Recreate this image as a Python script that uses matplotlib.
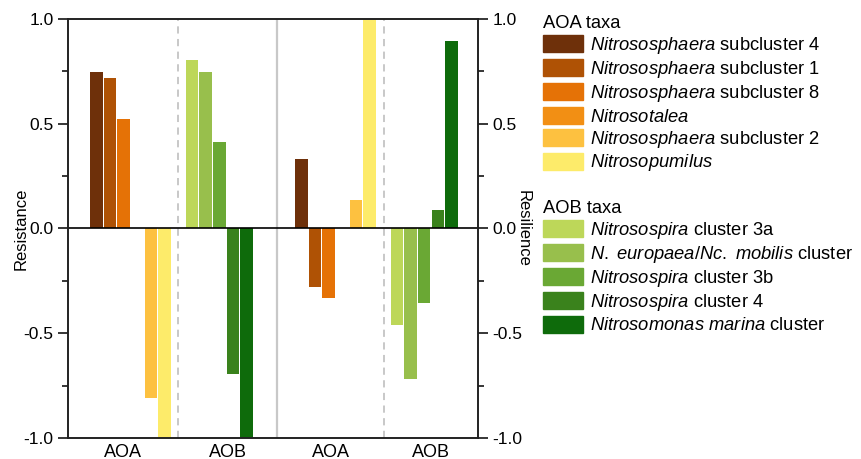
import numpy as np
import matplotlib.pyplot as plt
from matplotlib.patches import Patch

plt.rcParams['font.family'] = ['Liberation Sans', 'DejaVu Sans']
plt.rcParams['mathtext.fontset'] = 'custom'
plt.rcParams['mathtext.rm'] = 'Liberation Sans'
plt.rcParams['mathtext.it'] = 'Liberation Sans:italic'

# data
aoa_labels = [r'$\mathit{Nitrososphaera}$ subcluster 4',
              r'$\mathit{Nitrososphaera}$ subcluster 1',
              r'$\mathit{Nitrososphaera}$ subcluster 8',
              r'$\mathit{Nitrosotalea}$',
              r'$\mathit{Nitrososphaera}$ subcluster 2',
              r'$\mathit{Nitrosopumilus}$']
aob_labels = [r'$\mathit{Nitrosospira}$ cluster 3a',
              r'$\mathit{N.\ europaea/Nc.\ mobilis}$ cluster',
              r'$\mathit{Nitrosospira}$ cluster 3b',
              r'$\mathit{Nitrosospira}$ cluster 4',
              r'$\mathit{Nitrosomonas\ marina}$ cluster']
aoa_colors = ['#6E300A', '#AF5205', '#E57206', '#F28F14', '#FDC140', '#FDEB6A']
aob_colors = ['#BDD759', '#98BF4C', '#6AA834', '#3A821C', '#0E6B0B']

resistance_aoa = [0.745, 0.72, 0.525, 0.0, -0.81, -1.0]
resistance_aob = [0.805, 0.745, 0.415, -0.695, -1.0]
resilience_aoa = [0.33, -0.28, -0.33, 0.0, 0.135, 1.0]
resilience_aob = [-0.46, -0.72, -0.355, 0.09, 0.895]

group_names = ['AOA', 'AOB', 'AOA', 'AOB']
ytick_labels = ['-1.0', '-0.5', '0.0', '0.5', '1.0']

fig = plt.figure(figsize=(8.61, 4.59), dpi=100)
ax = fig.add_axes([0.079, 0.0458, 0.476, 0.9128])

starts = [2.1, 9.13, 17.18, 24.2]
dividers = [8.11, 15.37, 23.26]
xmax = 30.15
w = 0.92

series = [(resistance_aoa, aoa_colors), (resistance_aob, aob_colors),
          (resilience_aoa, aoa_colors), (resilience_aob, aob_colors)]
for s, (vals, cols) in zip(starts, series):
    x = s + np.arange(len(vals))
    ax.bar(x, vals, width=w, color=cols, linewidth=0)

ax.axvline(dividers[0], color='#C4C4C4', lw=1.3, ls=(0, (4, 3)))
ax.axvline(dividers[2], color='#C4C4C4', lw=1.3, ls=(0, (4, 3)))
ax.axvline(dividers[1], color='#C8C8C8', lw=1.6)
ax.axhline(0, color='black', lw=1.2)

ax.set_xlim(0, xmax)
ax.set_ylim(-1, 1)
edges = [0] + dividers + [xmax]
centers = [(edges[i] + edges[i + 1]) / 2 for i in range(4)]
ax.set_xticks(centers)
ax.set_xticklabels(group_names, fontsize=13)
ax.tick_params(axis='x', length=0, pad=4)

ax.set_yticks([-1, -0.5, 0, 0.5, 1])
ax.set_yticks([-0.75, -0.25, 0.25, 0.75], minor=True)
ax.set_yticklabels(ytick_labels, fontsize=12.5)
ax.tick_params(axis='y', which='major', length=7, width=1.1, direction='out')
ax.tick_params(axis='y', which='minor', length=4, width=1.1, direction='out')
ax.set_ylabel('Resistance', fontsize=12, labelpad=-4)

ax2 = ax.twinx()
ax2.set_ylim(-1, 1)
ax2.set_yticks([-1, -0.5, 0, 0.5, 1])
ax2.set_yticks([-0.75, -0.25, 0.25, 0.75], minor=True)
ax2.set_yticklabels(ytick_labels, fontsize=12.5)
ax2.tick_params(axis='y', which='major', length=7, width=1.1, direction='out')
ax2.tick_params(axis='y', which='minor', length=4, width=1.1, direction='out')
ax2.set_ylabel('Resilience', fontsize=12, rotation=270, labelpad=6)

for a in (ax, ax2):
    for sp in a.spines.values():
        sp.set_linewidth(1.2)
        sp.set_color('#222222')

aoa_handles = [Patch(color=c) for c in aoa_colors]
aob_handles = [Patch(color=c) for c in aob_colors]
leg_kw = dict(loc='upper left', frameon=False, fontsize=13.2, title_fontsize=13.2,
              handlelength=2.18, handleheight=1.04, labelspacing=0.16,
              handletextpad=0.38, borderpad=0, borderaxespad=0, alignment='left')
leg1 = fig.legend(aoa_handles, aoa_labels, title='AOA taxa',
                  bbox_to_anchor=(0.6307, 0.967), **leg_kw)
leg2 = fig.legend(aob_handles, aob_labels, title='AOB taxa',
                  bbox_to_anchor=(0.6307, 0.564), **leg_kw)

fig.savefig('out.png', dpi=100)
